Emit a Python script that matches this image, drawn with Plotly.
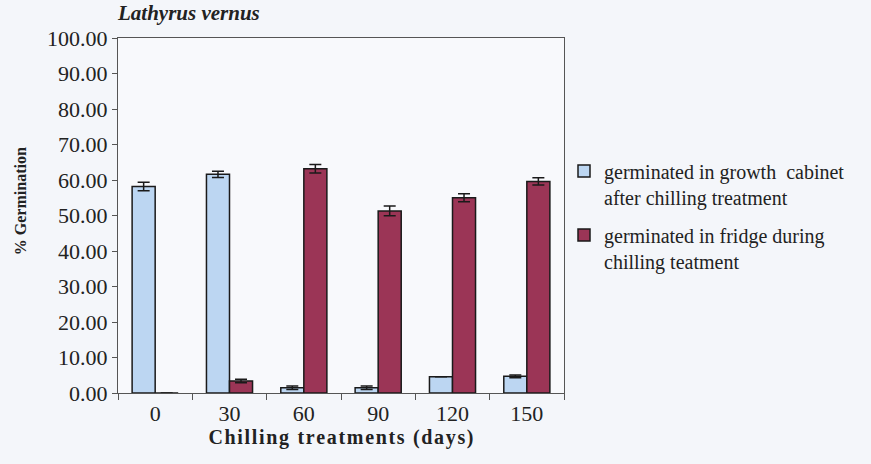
import plotly.graph_objects as go

# chilling treatment (days)
days = ["0", "30", "60", "90", "120", "150"]

cabinet = [58.2, 61.6, 1.5, 1.5, 4.6, 4.7]
cabinet_err = [1.2, 0.9, 0.5, 0.5, 0.0, 0.4]

fridge = [0.0, 3.4, 63.2, 51.3, 55.0, 59.6]
fridge_err = [0.0, 0.5, 1.2, 1.4, 1.1, 1.0]

ytick_vals = [0, 10, 20, 30, 40, 50, 60, 70, 80, 90, 100]

serif = "Liberation Serif, Times New Roman, serif"
ink = "#222222"
hair = "\u200a"

fig = go.Figure()

fig.add_trace(go.Bar(
    x=days,
    y=cabinet,
    name="germinated in growth  cabinet<br>after chilling treatment",
    legendgroup="a",
    marker=dict(color="#bcd6f2", line=dict(color="#1a1a1a", width=1.5)),
    error_y=dict(type="data", array=cabinet_err, color="#1a1a1a",
                 thickness=1.5, width=6),
))

fig.add_trace(go.Bar(
    x=days,
    y=fridge,
    name="germinated in fridge during<br>chilling teatment",
    legendgroup="b",
    marker=dict(color="#9b3556", line=dict(color="#1a1a1a", width=1.5)),
    error_y=dict(type="data", array=fridge_err, color="#1a1a1a",
                 thickness=1.5, width=6),
))

xtitle = hair.join("Chilling treatments (days)")

fig.update_xaxes(
    type="category",
    showline=True, linecolor="#555555", linewidth=1.2, mirror=True,
    ticks="outside", tickson="boundaries", ticklen=6, tickcolor="#555555",
    tickfont=dict(family=serif, size=22, color=ink),
    showgrid=False,
    title=dict(text="<b>" + xtitle + "</b>",
               font=dict(family=serif, size=20, color=ink), standoff=2),
)

fig.update_yaxes(
    range=[0, 100],
    tickvals=ytick_vals,
    tickformat=".2f",
    showline=True, linecolor="#555555", linewidth=1.2, mirror=True,
    ticks="outside", ticklen=5, tickcolor="#555555",
    tickfont=dict(family=serif, size=22, color=ink),
    showgrid=False, zeroline=False,
)

fig.add_annotation(
    text="<b>% Germination</b>",
    textangle=-90,
    xref="paper", yref="paper",
    x=-0.22, y=0.54,
    xanchor="center", yanchor="middle",
    showarrow=False,
    font=dict(family=serif, size=16, color=ink),
)

fig.update_layout(
    width=871,
    height=464,
    margin=dict(l=118, r=307, t=38, b=71),
    paper_bgcolor="#f4f6fa",
    plot_bgcolor="#f8f9fc",
    barmode="group",
    bargap=0.38,
    bargroupgap=0,
    title=dict(
        text="<b><i>Lathyrus vernus</i></b>",
        font=dict(family=serif, size=21, color=ink),
        xref="paper", x=0, xanchor="left",
        yref="container", y=0.972, yanchor="middle",
    ),
    legend=dict(
        x=1.0, y=0.68, xanchor="left", yanchor="top",
        traceorder="grouped", tracegroupgap=9,
        valign="top",
        bgcolor="rgba(0,0,0,0)",
        font=dict(family=serif, size=20, color=ink),
    ),
)

fig.write_html("out.html", config={"displayModeBar": False},
               post_script="document.body.style.margin='0';")
